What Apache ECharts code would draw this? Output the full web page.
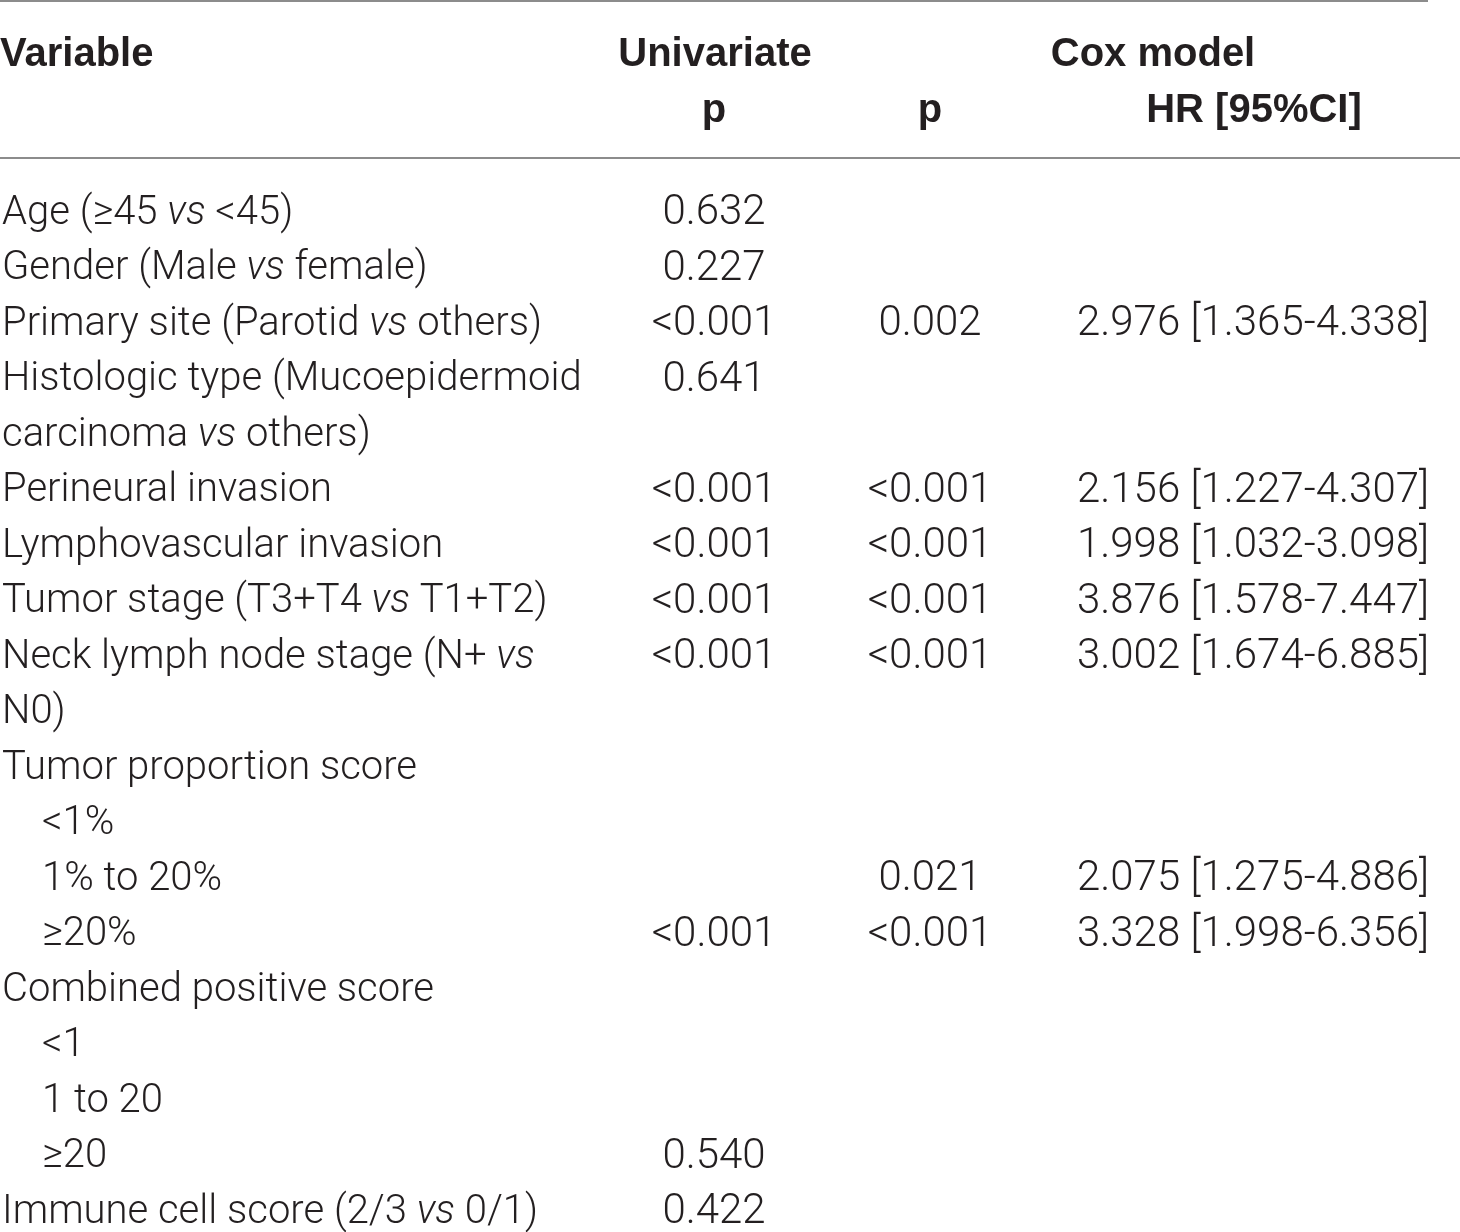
<!DOCTYPE html>
<html>
<head>
<meta charset="utf-8">
<title>Univariate and Cox model</title>
<script src="https://cdn.jsdelivr.net/npm/echarts@6/dist/echarts.min.js"></script>
<style>
  html, body { margin: 0; padding: 0; background: #fff; }
  #main { width: 1460px; height: 1232px; }
</style>
</head>
<body>
<div id="main"></div>
<script>
// 表格数据: 每一行一个文本行 (两行的变量拆成两行)
var variables = [
  'Age (≥45 vs <45)',
  'Gender (Male vs female)',
  'Primary site (Parotid vs others)',
  'Histologic type (Mucoepidermoid',
  'carcinoma vs others)',
  'Perineural invasion',
  'Lymphovascular invasion',
  'Tumor stage (T3+T4 vs T1+T2)',
  'Neck lymph node stage (N+ vs',
  'N0)',
  'Tumor proportion score',
  '  <1%',
  '  1% to 20%',
  '  ≥20%',
  'Combined positive score',
  '  <1',
  '  1 to 20',
  '  ≥20',
  'Immune cell score (2/3 vs 0/1)'
];
// 单因素 p
var uniP = ['0.632', '0.227', '<0.001', '0.641', '', '<0.001', '<0.001', '<0.001', '<0.001', '',
  '', '', '', '<0.001', '', '', '', '0.540', '0.422'];
// Cox 模型 p
var coxP = ['', '', '0.002', '', '', '<0.001', '<0.001', '<0.001', '<0.001', '',
  '', '', '0.021', '<0.001', '', '', '', '', ''];
// HR 和 95% CI
var hr    = [null, null, 2.976, null, null, 2.156, 1.998, 3.876, 3.002, null, null, null, 2.075, 3.328, null, null, null, null, null];
var ciLow = [null, null, 1.365, null, null, 1.227, 1.032, 1.578, 1.674, null, null, null, 1.275, 1.998, null, null, null, null, null];
var ciHigh = [null, null, 4.338, null, null, 4.307, 3.098, 7.447, 6.885, null, null, null, 4.886, 6.356, null, null, null, null, null];

// 列的位置 (x 轴刻度, 0 - 1460)
var colUni = 714, colCoxP = 930, colHR = 1253;

var bodyFont = 'Roboto';
var headFont = 'Liberation Sans';
var textColor = '#231f20';

var rowIdx = variables.map(function (v, i) { return i; });

function richText(s) {
  var ind = '';
  if (s.indexOf('  ') === 0) { ind = '{ind|}'; s = s.replace(/^\s+/, ''); }
  s = s.replace(/ vs( |$)/g, ' {i|vs}$1');
  return ind + s;
}

function cellSeries(name, x, texts) {
  var data = [];
  texts.forEach(function (t, i) {
    if (t) data.push({ value: [x, i], txt: t });
  });
  return {
    name: name,
    type: 'scatter',
    symbolSize: 0,
    silent: true,
    itemStyle: { opacity: 1 },
    data: data,
    label: {
      show: true,
      position: 'inside',
      formatter: function (p) { return p.data.txt; },
      fontFamily: bodyFont,
      fontWeight: 300,
      fontSize: 42,
      color: textColor,
      opacity: 1
    }
  };
}

var hrText = hr.map(function (h, i) {
  if (h == null) return '';
  return h.toFixed(3) + ' [' + ciLow[i].toFixed(3) + '-' + ciHigh[i].toFixed(3) + ']';
});

var myChart = echarts.init(document.getElementById('main'));

var headStyle = function (txt, align) {
  return { text: txt, font: 'bold 40px "' + headFont + '"', fill: textColor, align: align, verticalAlign: 'middle' };
};

var option = {
  backgroundColor: '#fff',
  animation: false,
  // 第一行在 top, 最后一行在 bottom (boundaryGap: false)
  grid: { left: 0, top: 213.5, width: 1460, height: 999, outerBoundsMode: 'none' },
  xAxis: { type: 'value', min: 0, max: 1460, show: false },
  yAxis: {
    type: 'category',
    inverse: true,
    boundaryGap: false,
    data: rowIdx,
    axisLine: { show: false },
    axisTick: { show: false },
    splitLine: { show: false },
    axisLabel: {
      inside: true,
      margin: 2,
      align: 'left',
      interval: 0,
      formatter: function (v) { return richText(variables[v]); },
      fontFamily: bodyFont,
      fontWeight: 300,
      fontSize: 40,
      color: textColor,
      rich: {
        i: { fontFamily: bodyFont, fontWeight: 300, fontStyle: 'italic', fontSize: 40, color: textColor },
        ind: { width: 40 }
      }
    }
  },
  graphic: [
    // 表头线
    { type: 'line', shape: { x1: 0, y1: 1, x2: 1428, y2: 1 }, style: { stroke: '#8c8c8c', lineWidth: 2 } },
    { type: 'line', shape: { x1: 0, y1: 158, x2: 1460, y2: 158 }, style: { stroke: '#8c8c8c', lineWidth: 2 } },
    // 表头文字
    { type: 'text', x: 0, y: 55, style: headStyle('Variable', 'left') },
    { type: 'text', x: 715, y: 55, style: headStyle('Univariate', 'center') },
    { type: 'text', x: 1153, y: 55, style: headStyle('Cox model', 'center') },
    { type: 'text', x: 714, y: 111, style: headStyle('p', 'center') },
    { type: 'text', x: 930, y: 111, style: headStyle('p', 'center') },
    { type: 'text', x: 1254, y: 111, style: headStyle('HR [95%CI]', 'center') }
  ],
  series: [
    cellSeries('Univariate p', colUni, uniP),
    cellSeries('Cox p', colCoxP, coxP),
    cellSeries('HR', colHR, hrText)
  ]
};

myChart.setOption(option);
</script>
</body>
</html>
